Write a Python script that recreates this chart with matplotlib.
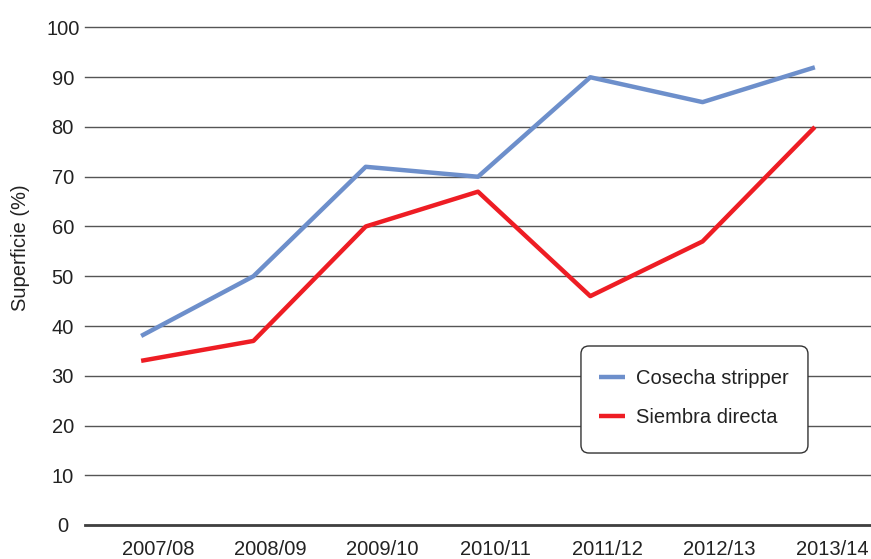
import matplotlib
matplotlib.use("Agg")
import matplotlib.pyplot as plt
import matplotlib.transforms as mtransforms
from matplotlib.patches import FancyBboxPatch

# campañas y porcentaje de superficie
campanas = ['2007/08', '2008/09', '2009/10', '2010/11', '2011/12', '2012/13', '2013/14']
cosecha_stripper = [38, 50, 72, 70, 90, 85, 92]
siembra_directa = [33, 37, 60, 67, 46, 57, 80]
y_ticks = list(range(0, 101, 10))

plt.rcParams['font.family'] = ['Liberation Sans', 'DejaVu Sans']

fig = plt.figure(figsize=(8.71, 5.59), dpi=100)
ax = fig.add_axes([85 / 871, 34 / 559, 786 / 871, 497.5 / 559])

x = range(len(campanas))
ax.plot(x, cosecha_stripper, color='#6d8fcb', lw=3.2, label='Cosecha stripper',
        solid_capstyle='butt', zorder=3)
ax.plot(x, siembra_directa, color='#ee1d24', lw=3.2, label='Siembra directa',
        solid_capstyle='butt', zorder=3)

ax.set_xlim(-0.5, len(campanas) - 0.5)
ax.set_ylim(0, 100)
ax.set_yticks(y_ticks)
ax.set_xticks(list(x))
ax.set_xticklabels(campanas, fontsize=14.5)
ax.tick_params(axis='both', length=0, labelcolor='#222222')
ax.tick_params(axis='x', pad=11)
ax.tick_params(axis='y', pad=16, labelsize=14.5)
for lab in ax.get_yticklabels():
    lab.set_horizontalalignment('center')

# etiquetas del eje x corridas un poco a la derecha
offset = mtransforms.ScaledTranslation(17 / 100, 0, fig.dpi_scale_trans)
for lab in ax.get_xticklabels():
    lab.set_transform(lab.get_transform() + offset)

ax.grid(axis='y', color='#555555', lw=1.0, zorder=1)
for gl in ax.get_ygridlines():
    gl.set_clip_on(False)
ax.set_axisbelow(True)
for s in ['top', 'left', 'right']:
    ax.spines[s].set_visible(False)
ax.spines['bottom'].set_color('#404040')
ax.spines['bottom'].set_linewidth(2)

fig.text(20 / 871, 1 - 248 / 559, 'Superficie (%)', rotation=90, fontsize=14.5,
         ha='center', va='center', color='#222222')

# recuadro de la leyenda (más alto que las entradas)
caja = FancyBboxPatch((0.631, 0.1447), 0.2888, 0.2151, transform=ax.transAxes,
                      boxstyle='round,pad=0,rounding_size=0.0102',
                      mutation_aspect=1.58, facecolor='white',
                      edgecolor='#333333', lw=1.0, zorder=4)
ax.add_patch(caja)

leg = ax.legend(loc='upper left', bbox_to_anchor=(0.654, 0.314), fontsize=14.5,
                handlelength=1.3, handletextpad=0.55, labelspacing=1.0,
                borderpad=0, borderaxespad=0, frameon=False)
leg.set_zorder(5)
for t in leg.get_texts():
    t.set_color('#222222')

fig.savefig('out.png', dpi=100)
